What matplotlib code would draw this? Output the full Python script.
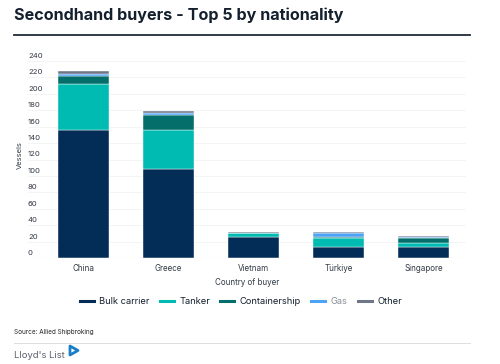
import matplotlib
matplotlib.use("Agg")
import matplotlib.pyplot as plt
from matplotlib.lines import Line2D
from matplotlib.patches import Polygon
import numpy as np

plt.rcParams['font.family'] = ['Inter', 'DejaVu Sans']

countries = ['China', 'Greece', 'Vietnam', 'Türkiye', 'Singapore']
series_names = ['Bulk carrier', 'Tanker', 'Containership', 'Gas', 'Other']
bulk_carrier = [156, 108, 26, 14, 14]
tanker = [56, 48, 4, 10, 4]
containership = [10, 18, 1, 2, 6]
gas = [2, 3, 0, 5, 2]
other = [4, 2, 1, 1, 1]
colors = ['#032d56', '#00bbb1', '#046e6b', '#4fa3f5', '#6f7687']

y_ticks = list(range(0, 241, 20))

W, H = 500, 364
fig = plt.figure(figsize=(W / 100, H / 100), dpi=100)

# title + rule
fig.text(14 / W, 1 - 15 / H, 'Secondhand buyers - Top 5 by nationality',
         fontsize=11.6, fontweight='bold', color='#14202e', va='center', ha='left')
fig.add_artist(Line2D([14 / W, 470 / W], [1 - 35 / H, 1 - 35 / H],
                      color='#1f2b38', lw=1.3))

# plot area: x from 28 to 466 px, y from 61 to 258 px
ax = fig.add_axes([28 / W, 1 - 258 / H, 438 / W, 197 / H])
x = np.arange(len(countries))
bottom = np.zeros(len(countries))
for name, vals, c in zip(series_names, [bulk_carrier, tanker, containership, gas, other], colors):
    ax.bar(x, vals, width=0.61, bottom=bottom, color=c, edgecolor='white',
           linewidth=0.3, label=name, zorder=3)
    bottom += np.array(vals)

ax.set_xlim(-0.653, 4.5)
ax.set_ylim(0, 240)
ax.set_yticks(y_ticks)
ax.yaxis.grid(True, color='#f2f2f2', lw=0.6, zorder=0)
ax.tick_params(axis='y', length=0, labelleft=False)
for t in y_ticks:
    ax.text(0, t + 2.5, str(t), transform=ax.get_yaxis_transform(),
            fontsize=5.5, color='#333b45', ha='left', va='bottom')
ax.axhline(0, color='#cfd3d8', lw=0.8, zorder=4)
for s in ax.spines.values():
    s.set_visible(False)
ax.set_xticks(x)
ax.set_xticklabels(countries, fontsize=5.8, color='#333b45')
ax.tick_params(axis='x', length=0, pad=4)
ax.set_xlabel('Country of buyer', fontsize=5.8, color='#333b45', labelpad=4)
fig.text(20 / W, 1 - 155 / H, 'Vessels', rotation=90, fontsize=5.5,
         color='#333b45', ha='center', va='center')

# legend
handles = [Line2D([], [], color=c, lw=2.2) for c in colors]
leg = fig.legend(handles, series_names, loc='center', bbox_to_anchor=(241 / W, 1 - 302 / H),
                 ncol=5, frameon=False, fontsize=6.7, handlelength=1.5,
                 handletextpad=0.6, columnspacing=1.1)
for txt in leg.get_texts():
    txt.set_color('#14202e')
leg.get_texts()[3].set_color('#8a8f96')

# footer
fig.text(14 / W, 1 - 332 / H, 'Source: Allied Shipbroking', fontsize=4.6,
         color='#222', va='center', ha='left')
fig.add_artist(Line2D([14 / W, 470 / W], [1 - 343 / H, 1 - 343 / H],
                      color='#dcdfe3', lw=0.7))
fig.text(14 / W, 1 - 356 / H, "Lloyd's List", fontsize=6.8, color='#56606b',
         va='center', ha='left')
fig.add_artist(Polygon([[70 / W, 1 - 346 / H], [78 / W, 1 - 350.5 / H], [70 / W, 1 - 355 / H]],
                       closed=True, fill=False, edgecolor='#1a7ec8', lw=2.0,
                       joinstyle='round'))

fig.savefig('out.png', dpi=100)
